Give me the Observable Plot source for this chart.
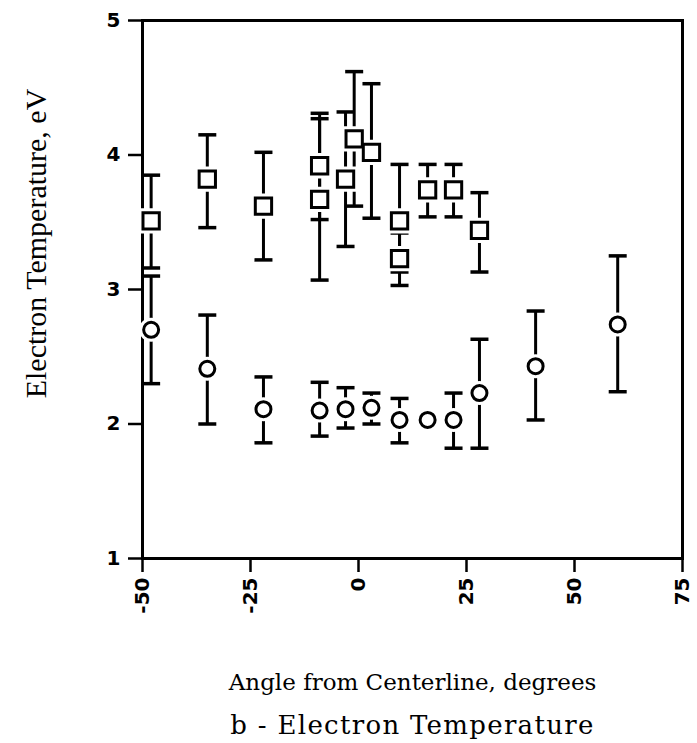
<!DOCTYPE html>
<html>
<head>
<meta charset="utf-8">
<script src="https://cdn.jsdelivr.net/npm/d3@7"></script>
<script src="https://cdn.jsdelivr.net/npm/@observablehq/plot@0.6"></script>
<style>
  body { margin: 0; background: #fff; }
</style>
</head>
<body>
<div id="chart"></div>
<script>
// Square series (upper group)
const sqAngle = [-48, -35, -22, -9, -9, -3, -1, 3, 9.5, 9.5, 16, 22, 28];
const sqTemp  = [3.51, 3.82, 3.62, 3.92, 3.67, 3.82, 4.12, 4.02, 3.51, 3.23, 3.74, 3.74, 3.44];
const sqLow   = [3.16, 3.46, 3.22, 3.52, 3.07, 3.32, 3.62, 3.53, 3.13, 3.03, 3.54, 3.54, 3.13];
const sqHigh  = [3.85, 4.15, 4.02, 4.31, 4.27, 4.32, 4.62, 4.53, 3.93, 3.42, 3.93, 3.93, 3.72];

// Circle series (lower group)
const ciAngle = [-48, -35, -22, -9, -3, 3, 9.5, 16, 22, 28, 41, 60];
const ciTemp  = [2.70, 2.41, 2.11, 2.10, 2.11, 2.12, 2.03, 2.03, 2.03, 2.23, 2.43, 2.74];
const ciLow   = [2.30, 2.00, 1.86, 1.91, 1.97, 2.00, 1.86, null, 1.82, 1.82, 2.03, 2.24];
const ciHigh  = [3.10, 2.81, 2.35, 2.31, 2.27, 2.23, 2.19, null, 2.23, 2.63, 2.84, 3.25];

const xTicks = [-50, -25, 0, 25, 50, 75];
const yTicks = [1, 2, 3, 4, 5];
const yLabel = "Electron Temperature, eV";
const xLabel = "Angle from Centerline, degrees";
const caption = "b - Electron Temperature";

const squares = sqAngle.map((a, i) => ({x: a, y: sqTemp[i], lo: sqLow[i], hi: sqHigh[i]}));
const circles = ciAngle.map((a, i) => ({x: a, y: ciTemp[i], lo: ciLow[i], hi: ciHigh[i]}));
const withBars = squares.concat(circles.filter(d => d.lo != null));

const cap = {
  draw(context, size) {
    const w = Math.sqrt(size / Math.PI);
    context.moveTo(-w, 0);
    context.lineTo(w, 0);
  }
};

const chart = Plot.plot({
  width: 697,
  height: 743,
  marginLeft: 142,
  marginRight: 15,
  marginTop: 20,
  marginBottom: 185,
  style: {background: "#fff", color: "#000"},
  x: {domain: [-50, 75]},
  y: {domain: [1, 5]},
  marks: [
    Plot.frame({stroke: "#000", strokeWidth: 3}),
    Plot.axisY({ticks: yTicks, tickSize: 14, tickPadding: 8, strokeWidth: 2.5, label: null,
      fontSize: 20, fontFamily: "DejaVu Sans", fontWeight: "bold", tickFormat: d => d}),
    Plot.axisX({ticks: xTicks, tickSize: 14, tickPadding: 5, strokeWidth: 2.5, label: null,
      tickRotate: -90, fontSize: 20, fontFamily: "DejaVu Sans", fontWeight: "bold", tickFormat: d => d}),
    Plot.ruleX(withBars, {x: "x", y1: "lo", y2: "hi", stroke: "#000", strokeWidth: 3}),
    Plot.dot(withBars, {x: "x", y: "lo", symbol: cap, r: 9, stroke: "#000", strokeWidth: 3.5}),
    Plot.dot(withBars, {x: "x", y: "hi", symbol: cap, r: 9, stroke: "#000", strokeWidth: 3.5}),
    // white halos leave a small gap between bar and marker
    Plot.dot(squares, {x: "x", y: "y", symbol: "square", r: 9.2, fill: "#fff", stroke: "#fff", strokeWidth: 9}),
    Plot.dot(circles, {x: "x", y: "y", symbol: "circle", r: 7.5, fill: "#fff", stroke: "#fff", strokeWidth: 9}),
    Plot.dot(squares, {x: "x", y: "y", symbol: "square", r: 9.2, fill: "#fff", stroke: "#000", strokeWidth: 3}),
    Plot.dot(circles, {x: "x", y: "y", symbol: "circle", r: 7.5, fill: "#fff", stroke: "#000", strokeWidth: 3}),
    Plot.text([yLabel], {frameAnchor: "top-left", dx: -106, dy: 223, rotate: -90,
      textAnchor: "middle", lineAnchor: "middle",
      fontSize: 30, fontFamily: "Liberation Serif", fill: "#000"}),
    Plot.text([xLabel], {frameAnchor: "bottom", dy: 124, lineAnchor: "middle",
      fontSize: 23, fontFamily: "DejaVu Serif", fill: "#000"}),
    Plot.text([caption], {frameAnchor: "bottom", dy: 167, lineAnchor: "middle",
      fontSize: 26, fontFamily: "DejaVu Serif", fill: "#000"})
  ]
});
d3.select(chart).selectAll("text").filter(function() { return this.textContent === caption; })
  .style("letter-spacing", "1.3px");
document.getElementById("chart").appendChild(chart);
</script>
</body>
</html>
